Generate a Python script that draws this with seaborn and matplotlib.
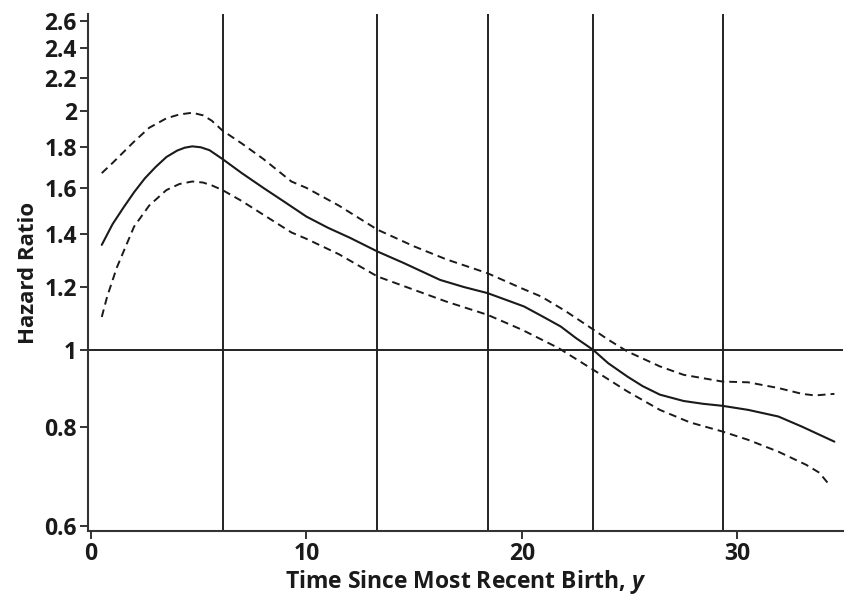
import numpy as np
import pandas as pd
import matplotlib
matplotlib.use("Agg")
import matplotlib.pyplot as plt
import seaborn as sns

# ---- data ----
hr_x = [0.5, 1.0, 1.5, 2.0, 2.5, 3.0, 3.5, 4.0, 4.35, 4.7, 5.1, 5.5, 6.1, 7.0, 8.0, 9.0,
        10.0, 11.0, 12.0, 13.3, 14.5, 16.2, 17.3, 18.4, 19.3, 20.1, 21.0, 21.8, 22.5,
        23.3, 24.0, 24.9, 25.6, 26.4, 27.5, 28.4, 29.3, 30.5, 31.9, 33.0, 34.5]
hr_y = [1.356, 1.44, 1.51, 1.58, 1.645, 1.70, 1.75, 1.783, 1.798, 1.805, 1.80, 1.785,
        1.74, 1.67, 1.60, 1.535, 1.472, 1.425, 1.385, 1.33, 1.287, 1.225, 1.20, 1.179,
        1.155, 1.134, 1.10, 1.07, 1.035, 1.0, 0.962, 0.925, 0.90, 0.878, 0.862, 0.855,
        0.850, 0.84, 0.824, 0.80, 0.766]

up_x = [0.5, 1.0, 2.0, 2.7, 3.5, 4.1, 4.7, 5.2, 5.6, 6.1, 7.0, 8.0, 9.3, 10.0, 11.5,
        13.3, 15.0, 16.5, 18.4, 20.0, 20.9, 22.0, 23.1, 24.0, 24.9, 26.4, 27.5, 29.3,
        30.5, 31.9, 33.0, 33.6, 34.5]
up_y = [1.67, 1.72, 1.83, 1.905, 1.958, 1.98, 1.99, 1.975, 1.945, 1.89, 1.82, 1.74,
        1.63, 1.60, 1.52, 1.417, 1.35, 1.30, 1.249, 1.195, 1.167, 1.12, 1.07, 1.03,
        0.995, 0.953, 0.93, 0.912, 0.91, 0.895, 0.88, 0.876, 0.88]

lo_x = [0.5, 0.75, 1.2, 2.0, 2.7, 3.5, 4.1, 4.7, 5.2, 5.6, 6.1, 7.0, 8.0, 9.3, 10.0,
        11.5, 13.3, 15.0, 16.5, 18.4, 20.0, 21.7, 23.3, 24.9, 26.4, 27.8, 29.3, 30.5,
        31.9, 33.2, 33.8, 34.3]
lo_y = [1.10, 1.167, 1.27, 1.43, 1.52, 1.59, 1.618, 1.63, 1.625, 1.612, 1.59, 1.54,
        1.48, 1.406, 1.38, 1.32, 1.237, 1.19, 1.15, 1.107, 1.06, 1.005, 0.944, 0.886,
        0.840, 0.81, 0.789, 0.77, 0.744, 0.716, 0.70, 0.674]

knots = [6.13, 13.29, 18.43, 23.32, 29.35]
y_ticks = [0.6, 0.8, 1, 1.2, 1.4, 1.6, 1.8, 2, 2.2, 2.4, 2.6]
y_tick_labels = ["0.6", "0.8", "1", "1.2", "1.4", "1.6", "1.8", "2", "2.2", "2.4", "2.6"]
x_ticks = [0, 10, 20, 30]

sns.set_style("ticks")
plt.rcParams["font.family"] = ["Open Sans", "DejaVu Sans"]
plt.rcParams["mathtext.fontset"] = "custom"
plt.rcParams["mathtext.it"] = "Open Sans:italic:bold"

fig = plt.figure(figsize=(8.65, 6.11), dpi=100)
ax = fig.add_axes([0.1017, 0.1309, 0.8729, 0.8461])

line_col = "#1a1a1a"
df_hr = pd.DataFrame({"x": hr_x, "y": hr_y})
df_up = pd.DataFrame({"x": up_x, "y": up_y})
df_lo = pd.DataFrame({"x": lo_x, "y": lo_y})

sns.lineplot(data=df_hr, x="x", y="y", ax=ax, color=line_col, linewidth=1.5)
sns.lineplot(data=df_up, x="x", y="y", ax=ax, color=line_col, linewidth=1.4,
             linestyle=(0, (4.0, 2.6)))
sns.lineplot(data=df_lo, x="x", y="y", ax=ax, color=line_col, linewidth=1.4,
             linestyle=(0, (4.0, 2.6)))

for k in knots:
    ax.axvline(k, color="#222222", linewidth=1.4, zorder=1)
ax.axhline(1.0, color="#222222", linewidth=1.4, zorder=1)

ax.set_yscale("log")
ax.set_xlim(-0.14, 34.9)
ax.set_ylim(0.591, 2.65)
ax.set_yticks(y_ticks)
ax.set_yticklabels(y_tick_labels)
ax.yaxis.set_minor_locator(matplotlib.ticker.NullLocator())
ax.set_xticks(x_ticks)
ax.set_xticklabels([str(v) for v in x_ticks])

for s in ["top", "right"]:
    ax.spines[s].set_visible(False)
for s in ["left", "bottom"]:
    ax.spines[s].set_linewidth(1.5)
    ax.spines[s].set_color("#333333")

ax.tick_params(axis="both", direction="out", length=6, width=1.4, color="#333333",
               labelsize=16.5, pad=2)
for lab in ax.get_xticklabels() + ax.get_yticklabels():
    lab.set_fontweight("bold")
    lab.set_color("#1a1a1a")

ax.set_xlabel("Time Since Most Recent Birth, $\\it{y}$", fontsize=16.5,
              fontweight="bold", color="#1a1a1a", labelpad=1)
ax.set_ylabel("Hazard Ratio", fontsize=16, fontweight="bold", color="#1a1a1a",
              labelpad=4)

fig.savefig("out.png", dpi=100)
